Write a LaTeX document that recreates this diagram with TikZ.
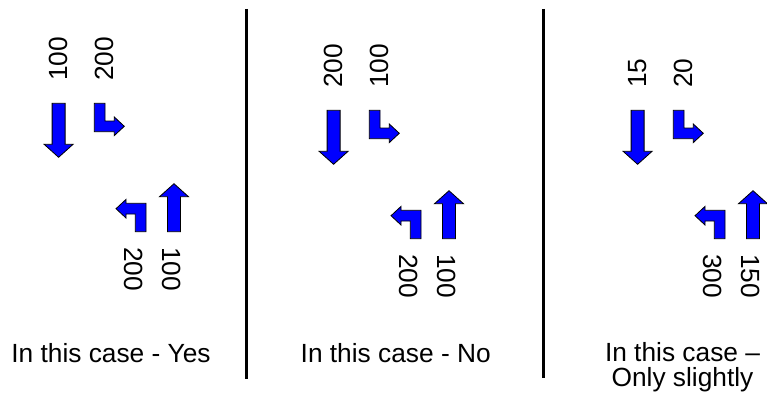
\documentclass[tikz,border=0pt]{standalone}
\usepackage{fontspec}
\setmainfont{Liberation Sans}

\tikzset{
  arrowfill/.style={fill={rgb,255:red,0;green,0;blue,255}, draw=black, line width=0.8pt, line join=miter},
  % straight arrow, origin at the top middle of the shaft, #1 = length
  pics/lanearrow/.style={code={
    \draw[arrowfill] (-6.5,0) -- (6.5,0) -- (6.5,#1-13) -- (14.5,#1-13) -- (0,#1)
      -- (-14.5,#1-13) -- (-6.5,#1-13) -- cycle;
  }},
  % turning arrow, origin at the top left of the shaft
  pics/turnarrow/.style={code={
    \draw[arrowfill] (0,0) -- (10.7,0) -- (10.7,17.7) -- (20,17.7) -- (20,13.7) -- (30,23)
      -- (20,32.3) -- (20,28.4) -- (0,28.4) -- cycle;
  }},
}

\begin{document}
\begin{tikzpicture}[x=1pt, y=-1pt,
                    every node/.style={inner sep=0pt, font=\fontsize{26.3}{25}\selectfont},
                    countup/.style={rotate=90, anchor=base west},
                    countdown/.style={rotate=-90, anchor=base west},
                    caption/.style={anchor=base, align=center},
                    divider/.style={line width=3pt}]
    \useasboundingbox (0,0) rectangle (767,396);

    % three crossings: shift x/y, then the four volumes
    \foreach \n/\dx/\dy/\a/\b/\c/\d in {1/0/0/100/200/200/100,
                                        2/275/7/200/100/200/100,
                                        3/579/7/15/20/300/150}{
        \begin{scope}[shift={(\dx,\dy)}]
            \pic at (58.6,103.3) {lanearrow=54};
            \pic at (94.3,103.3) {turnarrow};
            \pic[rotate=180] at (174,231.7) {lanearrow=48};
            \pic[rotate=180] at (146,231.7) {turnarrow};
            \node[countup] (south\n) at (67,81) {\a};
            \node[countup] (southturn\n) at (113,81) {\b};
            \node[countdown] (northturn\n) at (124,247) {\c};
            \node[countdown] (north\n) at (162,247) {\d};
        \end{scope}
    }

    \draw[divider] (246.7,9) -- (246.7,379.3);
    \draw[divider] (543,9) -- (543,378);

    \node[caption] (yes) at (111,362) {In this case - Yes};
    \node[caption] (no) at (395.7,362) {In this case - No};
    % two lines: base sits on the last one
    \node[caption] (slight) at (682.5,386.7) {In this case –\\Only slightly};
\end{tikzpicture}
\end{document}
